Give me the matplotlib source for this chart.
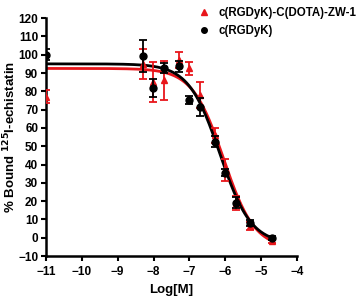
import numpy as np
import matplotlib
matplotlib.use("Agg")
import matplotlib.pyplot as plt

plt.rcParams['font.family'] = ['Liberation Sans', 'DejaVu Sans']
plt.rcParams['font.weight'] = 'bold'

# c(RGDyK)-C(DOTA)-ZW-1 (red triangles)
red_x = [-11.0, -8.3, -8.02, -7.71, -7.3, -7.0, -6.7, -6.3, -6.0, -5.7, -5.32, -4.7]
red_y = [77, 95, 85, 86, 97, 92.6, 78, 56, 37, 19, 6.4, -2]
red_err = [3.5, 8, 11, 10.5, 4.5, 3.5, 7, 4, 6, 4, 2, 1]

# c(RGDyK) (black circles)
blk_x = [-11.0, -8.3, -8.02, -7.71, -7.3, -7.0, -6.7, -6.3, -6.0, -5.7, -5.32, -4.7]
blk_y = [100, 99.3, 82, 92.6, 93.8, 75.2, 71.3, 52.5, 35.5, 19, 8, 0]
blk_err = [3, 9, 5, 2.8, 3, 2, 5, 3, 2, 3, 1.5, 1]

# fitted sigmoid parameters: bottom, top, logIC50, hill slope
red_fit = (-6.0, 92.5, -6.05, 1.0)
blk_fit = (-3.4, 95.0, -6.15, 1.0)


def sigmoid(x, p):
    bottom, top, c, h = p
    return bottom + (top - bottom) / (1 + 10 ** ((x - c) * h))


fig = plt.figure(figsize=(3.61, 2.97), dpi=100)
ax = fig.add_axes([0.127, 0.138, 0.696, 0.801])

xs = np.linspace(-11, -4.7, 300)
ax.plot(xs, sigmoid(xs, red_fit), color='#e8161b', lw=2.0, zorder=2)
ax.plot(xs, sigmoid(xs, blk_fit), color='black', lw=2.0, zorder=3)

ax.errorbar(red_x, red_y, yerr=red_err, fmt='^', color='#e8161b', ms=5,
            elinewidth=1.3, capsize=3, capthick=1.3, zorder=4,
            label='c(RGDyK)-C(DOTA)-ZW-1')
ax.errorbar(blk_x, blk_y, yerr=blk_err, fmt='o', color='black', ms=5,
            elinewidth=1.3, capsize=3, capthick=1.3, zorder=5,
            label='c(RGDyK)')

ax.set_xlim(-11, -4)
ax.set_ylim(-10, 120)
ax.set_xticks(range(-11, -3))
ax.set_yticks(range(-10, 121, 10))
ax.spines['top'].set_visible(False)
ax.spines['right'].set_visible(False)
for s in ['left', 'bottom']:
    ax.spines[s].set_linewidth(1.8)
ax.tick_params(direction='out', width=1.5, length=3.5, labelsize=8.5, pad=2)
ax.tick_params(axis='x', pad=4)
for lab in ax.get_xticklabels() + ax.get_yticklabels():
    lab.set_fontweight('bold')

ax.set_xlabel('Log[M]', fontsize=9.5, fontweight='bold', labelpad=4)
ax.set_ylabel('% Bound $^{\\mathbf{125}}$I-echistatin', fontsize=9.5,
              fontweight='bold')
ax.yaxis.set_label_coords(-0.108, 0.5)

handles, labels = ax.get_legend_handles_labels()
handles = [h[0] for h in handles]
fig.legend(handles, labels, loc='upper left', bbox_to_anchor=(0.52, 1.01),
           frameon=False, handlelength=1.0, handletextpad=0.8,
           labelspacing=0.45, markerscale=0.8, prop={'weight': 'bold', 'size': 8.3})

fig.savefig('out.png', dpi=100)
